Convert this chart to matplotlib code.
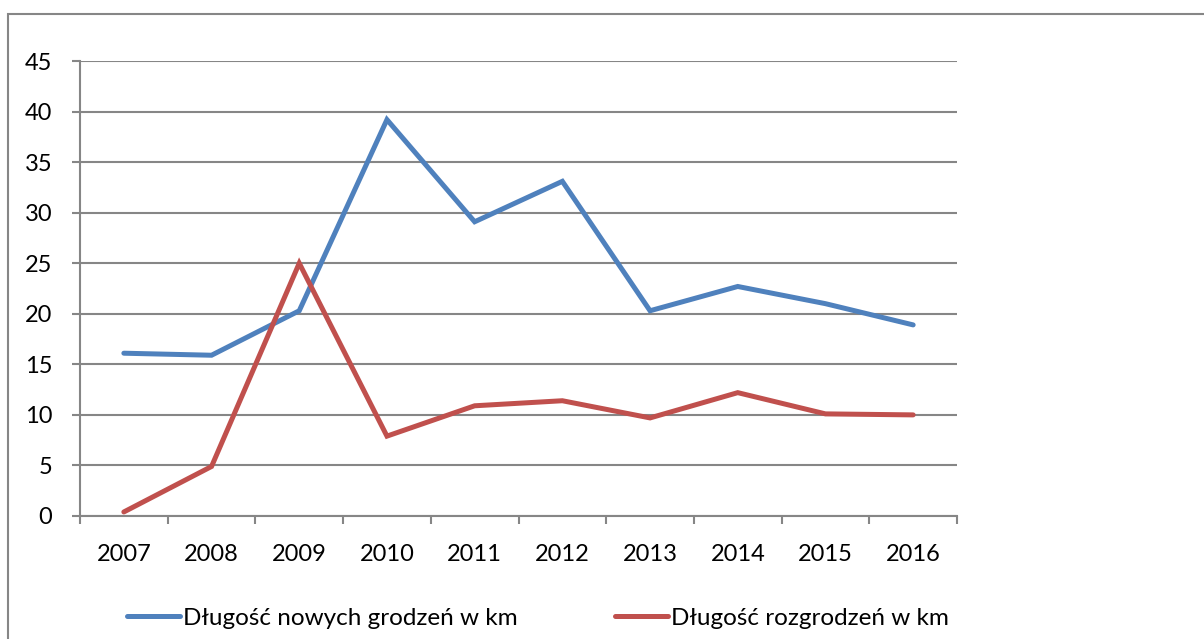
import matplotlib.pyplot as plt
import matplotlib.patches as mpatches

# ------------------------------------------
# Data
# ------------------------------------------
years = ['2007', '2008', '2009', '2010', '2011', '2012', '2013', '2014', '2015', '2016']
nowe_grodzenia = [16.1, 15.9, 20.3, 39.2, 29.1, 33.1, 20.3, 22.7, 21.0, 18.9]
rozgrodzenia = [0.4, 4.9, 25.0, 7.9, 10.9, 11.4, 9.7, 12.2, 10.1, 10.0]

label_blue = "Długość nowych grodzeń w km"
label_red = "Długość rozgrodzeń w km"

plt.rcParams['font.family'] = ['Lato', 'DejaVu Sans']
FS_TICK = 17
FS_LEG = 17.5
GRID = '#868686'

fig = plt.figure(figsize=(12.04, 6.39), dpi=100)

# outer chart frame (cut off at right / bottom like the original)
frame = mpatches.Rectangle((8 / 1204, -0.1), 1.2, (639 - 14) / 639 + 0.1,
                           transform=fig.transFigure, fill=False,
                           edgecolor=GRID, linewidth=1.5)
fig.patches.append(frame)

ax = fig.add_axes([80 / 1204, (639 - 516) / 639, 877 / 1204, 455 / 639])

x = list(range(len(years)))
ax.plot(x, nowe_grodzenia, color='#4F81BD', linewidth=3.6,
        solid_capstyle='round', solid_joinstyle='miter', label=label_blue)
ax.plot(x, rozgrodzenia, color='#C0504D', linewidth=3.6,
        solid_capstyle='round', solid_joinstyle='miter', label=label_red)

ax.set_xlim(-0.5, len(years) - 0.5)
ax.set_ylim(0, 45)
ax.set_yticks(range(0, 46, 5))
ax.set_xticks(x)
ax.set_xticklabels(years)
ax.set_xticks([i - 0.5 for i in range(len(years) + 1)], minor=True)

ax.grid(axis='y', color=GRID, linewidth=1.5)
ax.set_axisbelow(True)
for side in ['top', 'right']:
    ax.spines[side].set_visible(False)
for side in ['left', 'bottom']:
    ax.spines[side].set_color(GRID)
    ax.spines[side].set_linewidth(1.5)

ax.tick_params(axis='x', which='major', length=0, pad=20, labelsize=FS_TICK)
ax.tick_params(axis='x', which='minor', length=6, width=1.5, color=GRID, direction='out')
ax.tick_params(axis='y', length=6, width=1.5, color=GRID, pad=14, labelsize=FS_TICK)

fig.legend(loc='center', bbox_to_anchor=(538 / 1204, 1 - 618 / 639), ncol=2,
           frameon=False, fontsize=FS_LEG, handlelength=2.18, handletextpad=0.12,
           columnspacing=4.0)

fig.savefig("out.png", dpi=100)
plt.close()
